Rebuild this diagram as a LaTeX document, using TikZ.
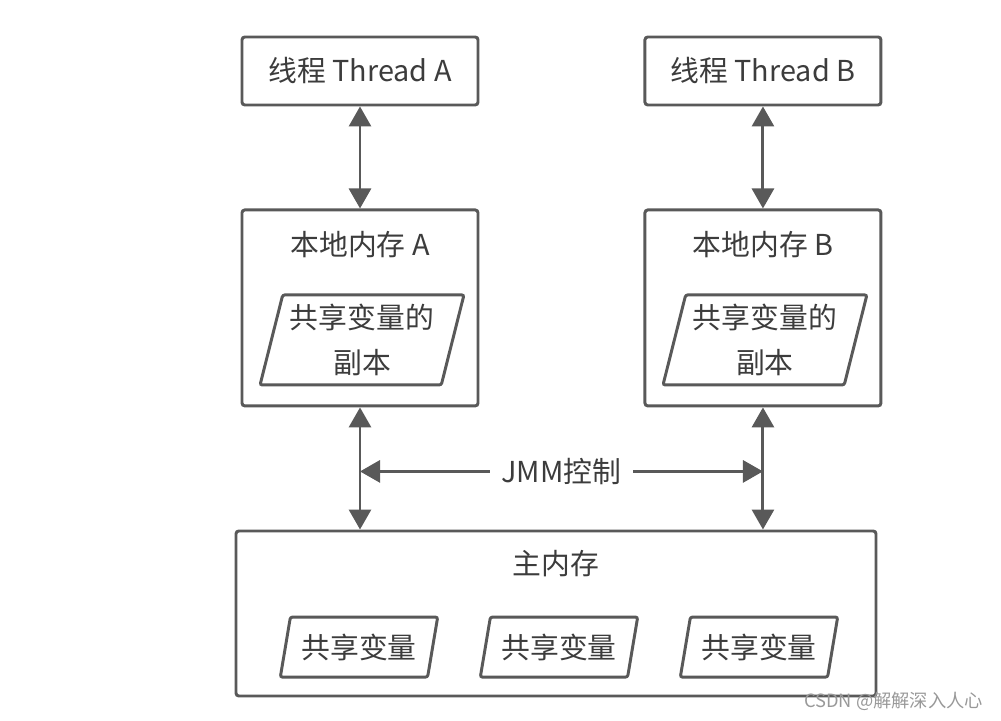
\documentclass[tikz,border=0pt]{standalone}
\usepackage{fontspec}
\setmainfont{Noto Sans CJK SC}
\usepackage{xcolor}
\definecolor{linegray}{RGB}{89,89,89}
\definecolor{textgray}{RGB}{60,60,60}
\usepackage{tikz}
\usetikzlibrary{
    arrows.meta,
    positioning,
    shapes.geometric
}
\tikzset{
    membox/.style   = {rectangle, draw=linegray, line width=2.1pt, fill=white,
                       rounded corners=2pt, text=textgray,
                       font=\fontsize{20.5}{32}\selectfont},
    copybox/.style  = {trapezium, trapezium left angle=74, trapezium right angle=106,
                       trapezium stretches=true,
                       draw=linegray, line width=2.1pt, align=center,
                       text=textgray, rounded corners=1.5pt, inner sep=0pt,
                       font=\fontsize{20.5}{32}\selectfont},
    boxtitle/.style = {text=textgray, font=\fontsize{20.5}{24}\selectfont},
    arrow/.style    = {<->, >={Triangle[length=5mm,width=5.5mm]},
                       line width=2.1pt, draw=linegray}
}
\begin{document}
\begin{tikzpicture}[
    node distance = 2.55cm and 4.1cm,
    threadbox/.style = {membox, minimum width=5.9cm, minimum height=1.7cm},
    localbox/.style  = {membox, minimum width=5.9cm, minimum height=4.9cm},
    varbox/.style    = {copybox, trapezium left angle=72.5, trapezium right angle=107.5,
                        minimum width=3.95cm, minimum height=1.5cm}
]
\useasboundingbox (0,0) rectangle (25.025,18.025);

% --- Threads ---
\node[threadbox] (threadA) at (9.0,16.25) {线程 Thread A};
\node[threadbox, right=of threadA] (threadB) {线程 Thread B};

% --- Local memories ---
\node[localbox, below=of threadA] (localA) {};
\node[localbox, below=of threadB] (localB) {};
\node[boxtitle] (localAT) at ([yshift=-0.9cm]localA.north) {本地内存 A};
\node[boxtitle] (localBT) at ([yshift=-0.9cm]localB.north) {本地内存 B};
\node[copybox, minimum width=5.1cm, minimum height=2.25cm] (copyA)
   at ([xshift=0.05cm,yshift=-0.8cm]localA.center) {共享变量的\\副本};
\node[copybox, minimum width=5.1cm, minimum height=2.25cm] (copyB)
   at ([xshift=0.05cm,yshift=-0.8cm]localB.center) {共享变量的\\副本};

% --- Main memory ---
\node[membox, minimum width=16cm, minimum height=4.125cm] (main) at (13.9,2.6875) {};
\node[boxtitle] (mainT) at ([yshift=-0.85cm]main.north) {主内存};
\foreach \n/\x in {varA/-4.925, varB/0.075, varC/5.075}
   \node[varbox] (\n) at ([xshift=\x cm,yshift=-0.84cm]main.center) {共享变量};

% --- Arrows ---
\draw[arrow] (threadA) -- (localA);
\draw[arrow] (threadB) -- (localB);
\draw[arrow] (localA.south) -- (localA.south |- main.north);
\draw[arrow] (localB.south) -- (localB.south |- main.north);

% --- JMM control ---
\coordinate (jmmL) at ([yshift=-1.6cm]localA.south);
\coordinate (jmmR) at ([yshift=-1.6cm]localB.south);
\draw[arrow] (jmmL) -- node[fill=white, inner xsep=0.3cm, boxtitle] (jmm) {JMM控制} (jmmR);

% --- Watermark ---
\node[anchor=east, text=gray!80, font=\fontsize{13}{15}\selectfont] (wmark)
   at (24.7,0.5) {CSDN @解解深入人心};

\end{tikzpicture}
\end{document}
